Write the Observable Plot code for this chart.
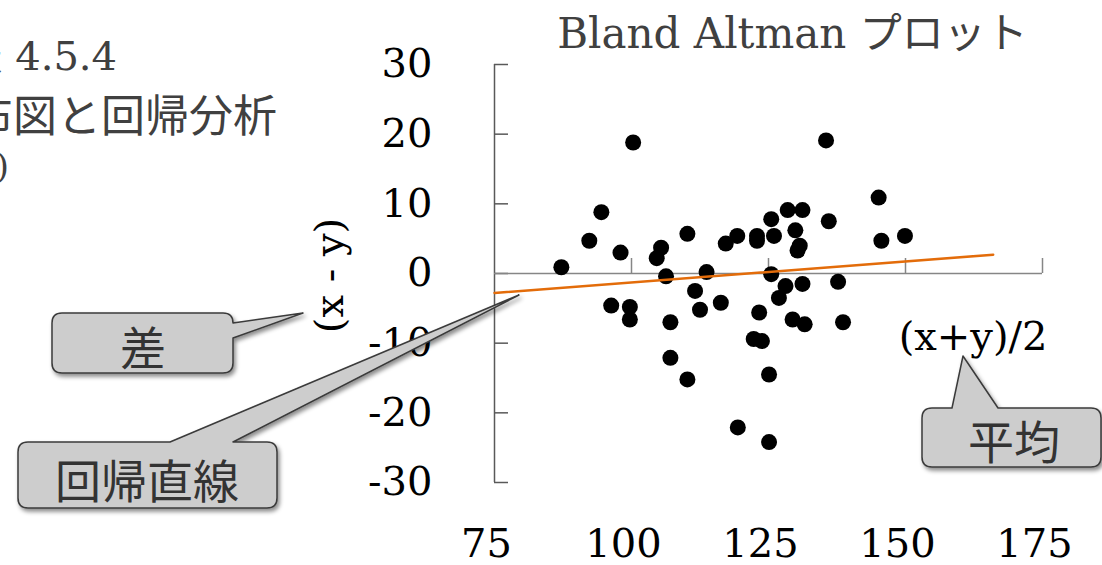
<!DOCTYPE html>
<html><head><meta charset="utf-8">
<script src="https://cdn.jsdelivr.net/npm/d3@7"></script>
<script src="https://cdn.jsdelivr.net/npm/@observablehq/plot@0.6"></script>
<style>body{margin:0;background:#fff;overflow:hidden} svg{display:block}</style>
</head><body><div id="chart"></div>
<script>
// Mean of the two measurements (x+y)/2
const meanXY = [87.2,92.3,94.5,98.0,100.3,96.3,99.7,99.7,105.4,104.6,106.3,107.1,107.1,110.2,110.2,111.6,112.5,113.7,116.3,117.2,119.3,119.4,122.9,122.9,122.3,123.8,123.3,125.5,126.0,125.5,125.1,125.1,126.9,128.1,128.5,131.2,129.9,130.7,130.3,129.4,131.6,131.2,135.5,136.0,137.7,138.6,145.1,145.6,149.9];
// Difference (x - y)
const diffXY = [0.9,4.7,8.8,3.0,18.8,-4.6,-4.8,-6.6,3.7,2.2,-0.4,-7.0,-12.1,5.7,-15.2,-2.5,-5.2,0.2,-4.2,4.3,5.4,-22.1,5.4,4.7,-9.4,-9.7,-5.6,7.8,5.4,-0.1,-14.5,-24.2,-3.5,-1.8,9.1,9.1,6.2,4.0,3.3,-6.6,-7.3,-1.5,19.1,7.5,-1.2,-7.0,10.9,4.7,5.4];
// Regression line end points
const regMean = [75, 166];
const regDiff = [-2.8, 2.7];
const xTicks = [75, 100, 125, 150, 175];
const yTicks = [-30, -20, -10, 0, 10, 20, 30];
const title = "Bland Altman プロット";
const xLabel = "(x+y)/2";
const yLabel = "(x - y)";
const calloutLabels = ["差", "回帰直線", "平均"];
const sideLines = ["表 4.5.4", "散布図と回帰分析", ")"];

const data = meanXY.map((m, i) => ({mean: m, diff: diffXY[i]}));
const reg = regMean.map((m, i) => ({mean: m, diff: regDiff[i]}));
const serif = "'DejaVu Serif', 'Noto Sans CJK JP', serif";
const cjk = "'Noto Sans CJK JP', sans-serif";

const plot = Plot.plot({
  width: 1102, height: 565,
  marginLeft: 494, marginRight: 60, marginTop: 64, marginBottom: 83,
  x: {domain: [75, 175]},
  y: {domain: [-30, 30]},
  style: {fontFamily: serif, background: "#fff", color: "#000", overflow: "visible"},
  marks: [
    Plot.ruleX([75], {y1: -30, y2: 30, stroke: "#595959", strokeWidth: 1.5}),
    Plot.tickY(yTicks, {stroke: "#595959", strokeWidth: 1.5, insetRight: 534}),
    Plot.ruleY([0], {x1: 75, x2: 175, stroke: "#868686", strokeWidth: 1.5}),
    Plot.tickX(xTicks.slice(1), {stroke: "#868686", strokeWidth: 1.5, insetTop: 194, insetBottom: 209}),
    Plot.axisY(yTicks, {tickSize: 0, tickPadding: 62, fontSize: 40, label: null, fill: "#000", tickFormat: d => String(d)}),
    Plot.axisX(xTicks, {tickSize: 0, tickPadding: 46, fontSize: 40, dx: -8, label: null, fill: "#000", tickFormat: d => String(d)}),
    Plot.dot(data, {x: "mean", y: "diff", r: 8, fill: "#000"}),
    Plot.line(reg, {x: "mean", y: "diff", stroke: "#E36C0A", strokeWidth: 2.5}),
    Plot.text([title], {frameAnchor: "top", lineAnchor: "middle", dx: 24, dy: -30, fontSize: 42, fill: "#404040"}),
    Plot.text([yLabel], {frameAnchor: "left", textAnchor: "middle", lineAnchor: "middle", dx: -164, dy: 2, rotate: -90, fontSize: 40, fill: "#000"}),
    Plot.text([xLabel], {frameAnchor: "top-right", textAnchor: "end", lineAnchor: "middle", dx: 5, dy: 273, fontSize: 40, fill: "#000"})
  ]
});
document.getElementById("chart").appendChild(plot);

const svg = d3.select(plot);
const defs = svg.append("defs");
const f = defs.append("filter").attr("id", "shadow").attr("x", "-20%").attr("y", "-20%").attr("width", "150%").attr("height", "150%");
f.append("feDropShadow").attr("dx", 2).attr("dy", 3).attr("stdDeviation", 2).attr("flood-color", "#000").attr("flood-opacity", 0.45);

// side text (cut at the left edge of the slide)
const side = svg.append("g").attr("fill", "#404040");
side.append("text").attr("x", 117).attr("y", 70).attr("text-anchor", "end")
  .style("font-family", serif).style("font-size", "40px").text(sideLines[0]);
side.append("text").attr("x", 277).attr("y", 132).attr("text-anchor", "end")
  .style("font-family", cjk).style("font-size", "44px").text(sideLines[1]);
side.append("text").attr("x", 9).attr("y", 178).attr("text-anchor", "end")
  .style("font-family", serif).style("font-size", "34px").text(sideLines[2]);

// callouts
const shapes = [
  "M62,313 H223 Q233,313 233,323 L303,313 L233,338 V363 Q233,373 223,373 H62 Q52,373 52,363 V323 Q52,313 62,313 Z",
  "M28,442 H170 L519,295 L233,442 H267 Q277,442 277,452 V498 Q277,508 267,508 H28 Q18,508 18,498 V452 Q18,442 28,442 Z",
  "M932,408 H952 L963,356 L998,408 H1091 Q1101,408 1101,418 V457 Q1101,467 1091,467 H932 Q922,467 922,457 V418 Q922,408 932,408 Z"
];
const centers = [[143, 345], [147, 478], [1014, 439]];
const cg = svg.append("g");
shapes.forEach((d, i) => {
  cg.append("path").attr("d", d).attr("fill", "#cdcdcd").attr("stroke", "#3a3a3a")
    .attr("stroke-width", 1.5).attr("stroke-linejoin", "round").attr("filter", "url(#shadow)");
  cg.append("text").attr("x", centers[i][0]).attr("y", centers[i][1])
    .attr("text-anchor", "middle").attr("dominant-baseline", "central")
    .attr("fill", "#333").style("font-family", cjk).style("font-size", "46px").text(calloutLabels[i]);
});
</script>
</body></html>
